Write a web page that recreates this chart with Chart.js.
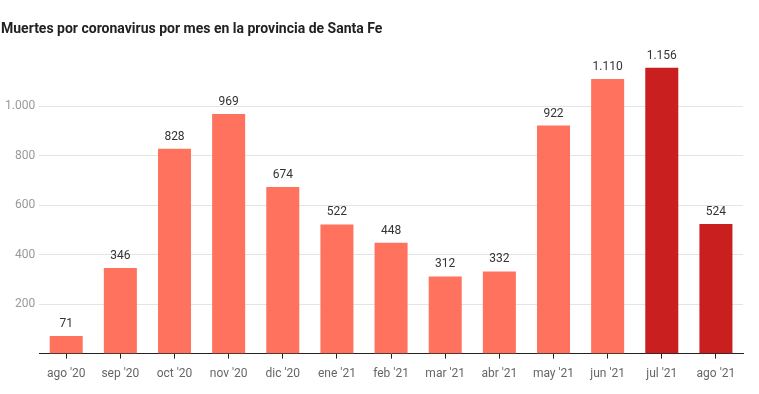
<!DOCTYPE html>
<html lang="es">
<head>
<meta charset="UTF-8">
<title></title>
<script src="https://cdn.jsdelivr.net/npm/chart.js"></script>
<style>
  html, body { margin: 0; padding: 0; background: #fff; overflow: hidden; }
  #wrap { width: 759px; height: 394px; position: relative; }
</style>
</head>
<body>
<div id="wrap"><canvas id="chart"></canvas></div>
<script>
const months = ["ago '20", "sep '20", "oct '20", "nov '20", "dic '20", "ene '21", "feb '21",
  "mar '21", "abr '21", "may '21", "jun '21", "jul '21", "ago '21"];
const deaths = [71, 346, 828, 969, 674, 522, 448, 312, 332, 922, 1110, 1156, 524];
const highlighted = ["jul '21", "ago '21"];
const yTicks = [200, 400, 600, 800, 1000];

const fmt = v => v.toLocaleString('de-DE');

// numbers above each bar
const barLabels = {
  id: 'barLabels',
  afterDatasetsDraw(chart) {
    const c = chart.ctx;
    const meta = chart.getDatasetMeta(0);
    c.save();
    c.font = '12px Roboto';
    c.fillStyle = '#333';
    c.textAlign = 'center';
    c.textBaseline = 'bottom';
    meta.data.forEach((bar, i) => {
      c.fillText(fmt(deaths[i]), bar.x, bar.y - 6);
    });
    c.restore();
  }
};

new Chart(document.getElementById('chart'), {
  type: 'bar',
  data: {
    labels: months,
    datasets: [{
      data: deaths,
      backgroundColor: months.map(m => highlighted.includes(m) ? '#c91f1f' : '#ff735e'),
      categoryPercentage: 1,
      barPercentage: 0.61,
    }]
  },
  options: {
    responsive: true,
    maintainAspectRatio: false,
    animation: false,
    layout: { padding: { left: 1, right: 16, top: 0, bottom: 5 } },
    scales: {
      x: {
        grid: { display: true, drawOnChartArea: false, offset: false, tickLength: 5, color: '#222' },
        border: { color: '#222', width: 1 },
        ticks: { color: '#666', font: { family: 'Roboto', size: 12 }, padding: 8 },
      },
      y: {
        min: 0,
        max: 1200,
        afterBuildTicks: axis => { axis.ticks = yTicks.map(v => ({ value: v })); },
        grid: { color: '#e4e4e4', drawTicks: false },
        border: { display: false },
        ticks: {
          color: '#999',
          font: { family: 'Roboto', size: 12 },
          padding: 4,
          callback: v => fmt(v),
        }
      }
    },
    plugins: {
      legend: { display: false },
      tooltip: { enabled: false },
      title: {
        display: true,
        text: 'Muertes por coronavirus por mes en la provincia de Santa Fe',
        align: 'start',
        color: '#222',
        font: { family: 'Roboto', size: 14, weight: 'bold' },
        padding: { top: 21, bottom: 19 },
      }
    }
  },
  plugins: [barLabels]
});
</script>
</body>
</html>
